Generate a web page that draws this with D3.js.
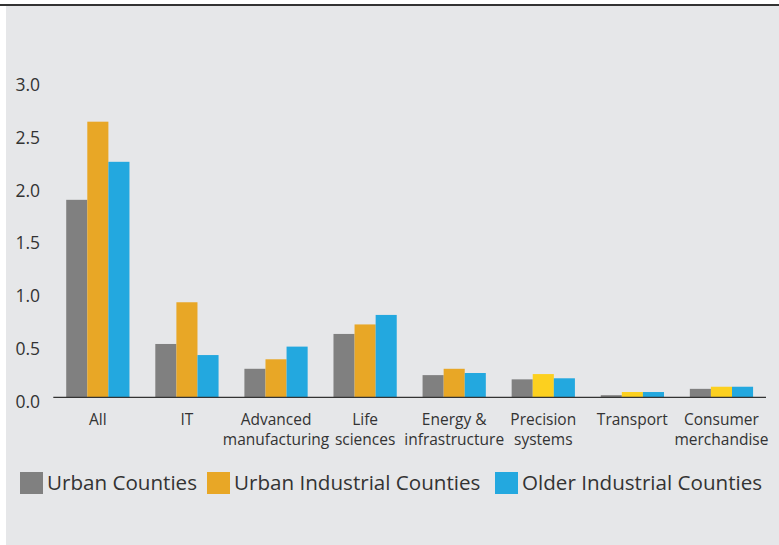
<!DOCTYPE html>
<html><head><meta charset="utf-8">
<script src="https://cdn.jsdelivr.net/npm/d3@7"></script>
<style>html,body{margin:0;padding:0;background:#fff}svg{display:block}</style>
</head><body>
<svg id="c" width="779" height="545"></svg>
<script>
const categories = [["All"],["IT"],["Advanced","manufacturing"],["Life","sciences"],["Energy &","infrastructure"],["Precision","systems"],["Transport"],["Consumer","merchandise"]];
const seriesNames = ["Urban Counties","Urban Industrial Counties","Older Industrial Counties"];
const urban = [1.87,0.505,0.27,0.60,0.21,0.17,0.02,0.08];
const urbanIndustrial = [2.61,0.90,0.36,0.69,0.27,0.22,0.05,0.10];
const olderIndustrial = [2.23,0.40,0.48,0.78,0.23,0.18,0.05,0.10];
const yTicks = [0,0.5,1.0,1.5,2.0,2.5,3.0];

const series = [urban, urbanIndustrial, olderIndustrial];
const colors = ["#808080","#E8A726","#23A8DF"];
const altYellow = "#FCD01F";

const svg = d3.select("#c");
const font = "'Open Sans', sans-serif";
svg.append("rect").attr("x",6).attr("y",6).attr("width",773).attr("height",539).attr("fill","#E6E7E9");
svg.append("rect").attr("x",0).attr("y",4).attr("width",779).attr("height",2).attr("fill","#333");

const x0 = d3.scaleBand().domain(d3.range(categories.length)).range([53.3,766]).paddingInner(0.29).paddingOuter(0.145);
const x1 = d3.scaleBand().domain(d3.range(series.length)).range([0,x0.bandwidth()]);
const y = d3.scaleLinear().domain([0,3]).range([397.3,80.5]);

const g = svg.append("g");
categories.forEach((c,i)=>{
  series.forEach((s,j)=>{
    let col = colors[j];
    if (j===1 && i>=5) col = altYellow;
    g.append("rect").attr("x",x0(i)+x1(j)).attr("width",x1.bandwidth())
      .attr("y",y(s[i])).attr("height",y(0)-y(s[i])).attr("fill",col);
  });
});

// baseline
svg.append("line").attr("x1",53.3).attr("x2",766).attr("y1",y(0)).attr("y2",y(0)).attr("stroke","#333").attr("stroke-width",1.3);

// y ticks
svg.selectAll("text.yt").data(yTicks).enter().append("text")
  .attr("x",15.5).attr("y",d=>y(d)+10.5).text(d=>d.toFixed(1))
  .attr("font-family",font).attr("font-size",17.5).attr("fill","#333");

// x labels
categories.forEach((c,i)=>{
  const cx = x0(i)+x0.bandwidth()/2;
  const t = svg.append("text").attr("x",cx).attr("y",425)
    .attr("text-anchor","middle").attr("font-family",font).attr("font-size",15.5).attr("fill","#333");
  c.forEach((line,k)=>{
    t.append("tspan").attr("x",cx).attr("dy",k===0?0:20).text(line);
  });
});

// legend
const legX = [20,207,495];
seriesNames.forEach((n,j)=>{
  svg.append("rect").attr("x",legX[j]).attr("y",472).attr("width",23).attr("height",22).attr("fill",colors[j]);
  svg.append("text").attr("x",legX[j]+27).attr("y",490).text(n)
    .attr("font-family",font).attr("font-size",20.6).attr("fill","#333");
});
</script>
</body></html>
